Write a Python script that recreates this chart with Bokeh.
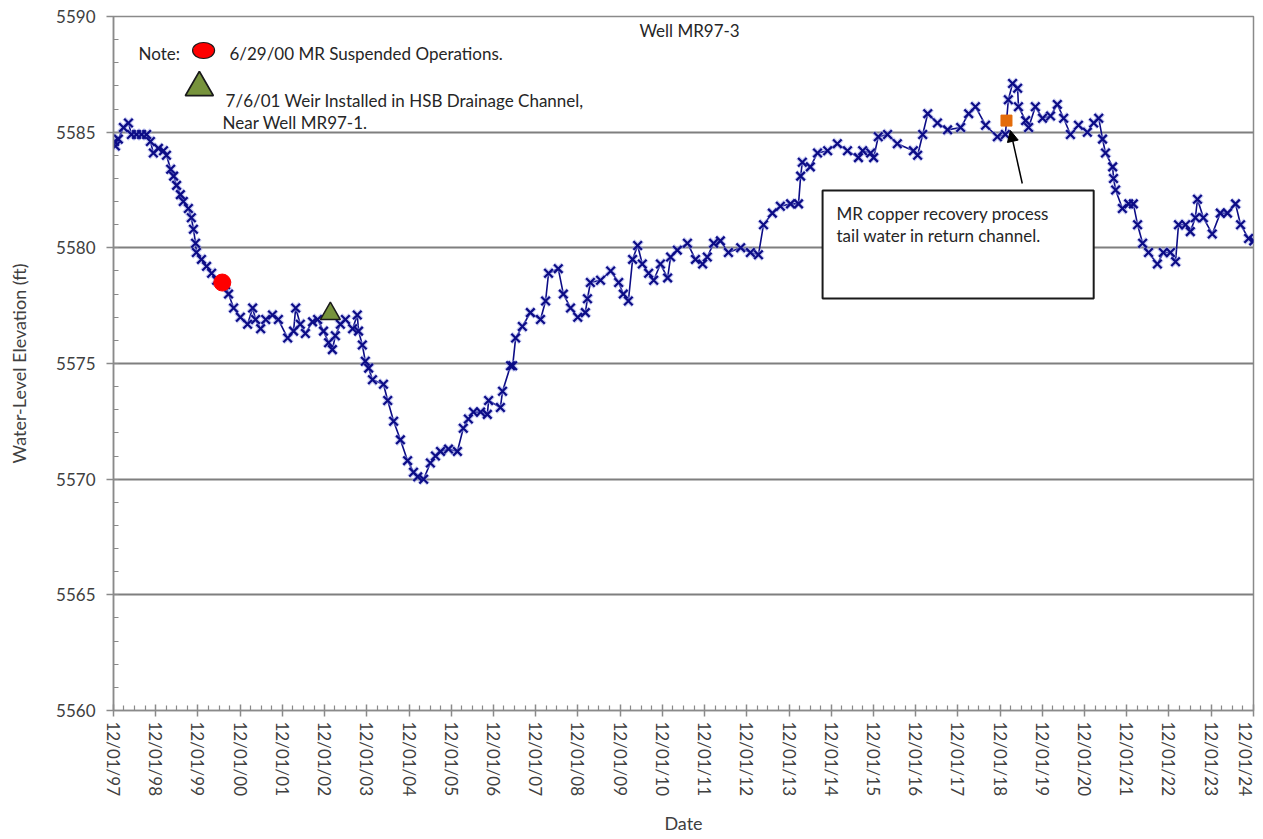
import math
from datetime import datetime, timedelta
from bokeh.plotting import figure
from bokeh.models import (FixedTicker, SingleIntervalTicker, DatetimeTickFormatter,
                          Range1d, Label, Arrow, NormalHead, ColumnDataSource, BoxAnnotation)
from bokeh.embed import file_html
from bokeh.resources import INLINE

# ---- data (decimal years, water-level elevation ft) ----
years = [
    1997.94, 1997.96, 1998.03, 1998.15, 1998.27, 1998.34, 1998.46, 1998.58, 1998.70, 1998.79,
    1998.86, 1998.98, 1999.10, 1999.17, 1999.27, 1999.34, 1999.41, 1999.50, 1999.57, 1999.69,
    1999.76, 1999.81, 1999.86, 1999.88, 2000.00, 2000.12, 2000.24, 2000.36, 2000.47, 2000.57,
    2000.64, 2000.76, 2000.92, 2001.09, 2001.21, 2001.28, 2001.40, 2001.52, 2001.68, 2001.82,
    2002.04, 2002.18, 2002.23, 2002.34, 2002.46, 2002.63, 2002.75, 2002.89, 2003.01, 2003.10,
    2003.17, 2003.29, 2003.41, 2003.58, 2003.69, 2003.72, 2003.81, 2003.88, 2003.96, 2004.05,
    2004.31, 2004.41, 2004.55, 2004.71, 2004.88, 2005.02, 2005.12, 2005.26, 2005.42, 2005.54,
    2005.66, 2005.85, 2006.06, 2006.20, 2006.32, 2006.44, 2006.61, 2006.77, 2006.80, 2007.08,
    2007.13, 2007.32, 2007.37, 2007.44, 2007.60, 2007.79, 2008.03, 2008.15, 2008.22, 2008.45,
    2008.57, 2008.74, 2008.91, 2009.09, 2009.14, 2009.21, 2009.45, 2009.69, 2009.88, 2009.99,
    2010.11, 2010.21, 2010.33, 2010.44, 2010.59, 2010.71, 2010.87, 2011.04, 2011.11, 2011.27,
    2011.51, 2011.70, 2011.87, 2011.98, 2012.13, 2012.29, 2012.48, 2012.77, 2013.00, 2013.19,
    2013.31, 2013.52, 2013.71, 2013.95, 2014.14, 2014.19, 2014.23, 2014.42, 2014.59, 2014.83,
    2015.06, 2015.30, 2015.56, 2015.66, 2015.85, 2015.92, 2016.03, 2016.25, 2016.48, 2016.86,
    2016.96, 2017.08, 2017.20, 2017.43, 2017.67, 2017.98, 2018.17, 2018.33, 2018.57, 2018.85,
    2019.04, 2019.11, 2019.21, 2019.33, 2019.35, 2019.52, 2019.59, 2019.75, 2019.92, 2020.11,
    2020.27, 2020.42, 2020.58, 2020.77, 2020.98, 2021.13, 2021.25, 2021.34, 2021.41, 2021.58,
    2021.60, 2021.65, 2021.81, 2021.96, 2022.07, 2022.17, 2022.29, 2022.43, 2022.64, 2022.78,
    2022.95, 2023.07, 2023.14, 2023.31, 2023.42, 2023.54, 2023.59, 2023.73, 2023.94, 2024.13,
    2024.30, 2024.49, 2024.61, 2024.80, 2024.92,
]
levels = [
    5584.6, 5584.4, 5584.7, 5585.2, 5585.4, 5584.9, 5584.9, 5584.9, 5584.9, 5584.6,
    5584.1, 5584.3, 5584.2, 5584.0, 5583.4, 5583.1, 5582.7, 5582.3, 5582.0, 5581.7,
    5581.3, 5580.8, 5580.2, 5579.8, 5579.5, 5579.2, 5578.9, 5578.6, 5578.5, 5578.4,
    5578.0, 5577.4, 5577.0, 5576.7, 5577.4, 5576.9, 5576.5, 5576.9, 5577.1, 5576.9,
    5576.1, 5576.4, 5577.4, 5576.7, 5576.3, 5576.8, 5576.9, 5576.4, 5575.9, 5575.6,
    5576.2, 5576.7, 5576.9, 5576.5, 5577.1, 5576.4, 5575.8, 5575.1, 5574.8, 5574.3,
    5574.1, 5573.4, 5572.5, 5571.7, 5570.8, 5570.3, 5570.1, 5570.0, 5570.7, 5571.0,
    5571.2, 5571.3, 5571.2, 5572.2, 5572.6, 5572.9, 5572.9, 5572.8, 5573.4, 5573.1,
    5573.8, 5574.9, 5574.9, 5576.1, 5576.6, 5577.2, 5576.9, 5577.7, 5578.9, 5579.1,
    5578.0, 5577.4, 5577.0, 5577.2, 5577.8, 5578.5, 5578.6, 5579.0, 5578.5, 5578.0,
    5577.7, 5579.5, 5580.1, 5579.3, 5578.9, 5578.6, 5579.3, 5578.7, 5579.6, 5579.9,
    5580.2, 5579.5, 5579.3, 5579.6, 5580.2, 5580.3, 5579.8, 5580.0, 5579.8, 5579.7,
    5581.0, 5581.5, 5581.8, 5581.9, 5581.9, 5583.1, 5583.7, 5583.5, 5584.1, 5584.2,
    5584.5, 5584.2, 5583.9, 5584.2, 5584.1, 5583.9, 5584.8, 5584.9, 5584.5, 5584.2,
    5584.0, 5584.9, 5585.8, 5585.4, 5585.1, 5585.2, 5585.8, 5586.1, 5585.3, 5584.8,
    5584.9, 5586.4, 5587.1, 5586.9, 5586.1, 5585.5, 5585.2, 5586.1, 5585.6, 5585.7,
    5586.2, 5585.6, 5584.9, 5585.3, 5585.0, 5585.4, 5585.6, 5584.7, 5584.1, 5583.5,
    5583.0, 5582.5, 5581.7, 5581.9, 5581.9, 5581.0, 5580.2, 5579.8, 5579.3, 5579.8,
    5579.8, 5579.4, 5581.0, 5581.0, 5580.7, 5581.3, 5582.1, 5581.3, 5580.6, 5581.5,
    5581.5, 5581.9, 5581.0, 5580.4, 5580.3,
]

# event markers
suspend_date, suspend_level = "2000-06-29", 5578.5
weir_date, weir_level = "2003-01-20", 5577.15
copper_date, copper_level = "2019-01-25", 5585.5

tick_years = list(range(1997, 2025))  # 12/01 of each year
y_min, y_max = 5560, 5590


def dec_to_dt(y):
    yi = int(y)
    start = datetime(yi, 1, 1)
    days = (datetime(yi + 1, 1, 1) - start).days
    return start + timedelta(days=(y - yi) * days)


def ms(dt):
    return (dt - datetime(1970, 1, 1)).total_seconds() * 1000.0


def ms_dec(y):
    return ms(dec_to_dt(y))


def ms_str(s):
    return ms(datetime.strptime(s, "%Y-%m-%d"))


FONT = "Lato"
TXT = "#262626"
NAVY = "#0c0c86"
GRAY = "#8a8a8a"

src = ColumnDataSource(dict(x=[dec_to_dt(v) for v in years], y=levels))

x_start = ms(datetime(tick_years[0], 12, 1))
x_end = ms(datetime(tick_years[-1], 12, 1))

p = figure(width=1255, height=838, x_axis_type="datetime",
           output_backend="svg", toolbar_location=None,
           x_range=Range1d(x_start, x_end), y_range=Range1d(y_min, y_max),
           min_border_left=113, min_border_right=2, min_border_top=16,
           min_border_bottom=128, background_fill_color="white",
           border_fill_color="white")

p.outline_line_color = GRAY
p.outline_line_width = 1.5

# ticks
major = [ms(datetime(yr, 12, 1)) for yr in tick_years]
minor = []
for yr in tick_years[1:]:
    for m in (3, 6, 9):
        minor.append(ms(datetime(yr, m, 1)))
p.xaxis.ticker = FixedTicker(ticks=major, minor_ticks=minor)
p.xaxis.formatter = DatetimeTickFormatter(
    years="%m/%d/%y", months="%m/%d/%y", days="%m/%d/%y",
    hours="%m/%d/%y", minutes="%m/%d/%y", seconds="%m/%d/%y",
    milliseconds="%m/%d/%y", microseconds="%m/%d/%y", hourmin="%m/%d/%y",
    minsec="%m/%d/%y")
p.xaxis.major_label_orientation = -math.pi / 2
p.yaxis.ticker = SingleIntervalTicker(interval=5, num_minor_ticks=5)

for ax in (p.xaxis[0], p.yaxis[0]):
    ax.axis_line_color = GRAY
    ax.axis_line_width = 1.5
    ax.major_tick_line_color = GRAY
    ax.minor_tick_line_color = GRAY
    ax.major_tick_line_width = 1.5
    ax.minor_tick_line_width = 1.2
    ax.major_label_text_font = FONT
    ax.major_label_text_font_size = "17px"
    ax.major_label_text_color = "#404040"
    ax.axis_label_text_font = FONT
    ax.axis_label_text_font_size = "18px"
    ax.axis_label_text_font_style = "normal"
    ax.axis_label_text_color = "#404040"

p.xaxis.major_tick_in = 6
p.xaxis.major_tick_out = 6
p.xaxis.minor_tick_in = 5
p.xaxis.minor_tick_out = 0
p.xaxis.major_label_standoff = 5
p.xaxis.axis_label = "Date"
p.xaxis.axis_label_standoff = 13

p.yaxis.major_tick_in = 0
p.yaxis.major_tick_out = 7
p.yaxis.minor_tick_in = 5
p.yaxis.minor_tick_out = 0
p.yaxis.major_label_standoff = 11
p.yaxis.axis_label = "Water-Level Elevation (ft)"
p.yaxis.axis_label_standoff = 23

p.xgrid.grid_line_color = None
p.ygrid.grid_line_color = "#7f7f7f"
p.ygrid.grid_line_width = 2

# series
p.line("x", "y", source=src, line_color=NAVY, line_width=1.6)
p.scatter("x", "y", source=src, marker="x", size=13, line_color="#9aa0ea",
          line_width=4.5, line_alpha=0.5)
p.scatter("x", "y", source=src, marker="x", size=12, line_color=NAVY, line_width=2.2)

# event markers
p.scatter([ms_str(suspend_date)], [suspend_level], marker="circle", size=17,
          fill_color="#ff0000", line_color="#ff0000")
p.scatter([ms_str(weir_date)], [weir_level], marker="triangle", size=20,
          fill_color="#77933c", line_color="#1a1a1a", line_width=1.5)
p.scatter([ms_str(copper_date)], [copper_level], marker="square", size=11,
          fill_color="#e46c0a", line_color="#e46c0a")

# arrow to the copper-recovery point
p.add_layout(Arrow(end=NormalHead(size=11, fill_color="black", line_color="black"),
                   x_start=ms_dec(2019.44), y_start=5582.78,
                   x_end=ms_dec(2019.16), y_end=5585.07,
                   line_color="black", line_width=1.5))

# annotation box
p.add_layout(BoxAnnotation(left=ms_dec(2014.71), right=ms_dec(2021.13),
                           bottom=5577.81, top=5582.48,
                           fill_color="white", fill_alpha=1.0,
                           line_color="#1a1a1a", line_alpha=1.0, line_width=2,
                           level="overlay"))


def lab(x, y, text, size="17px", align="left"):
    p.add_layout(Label(x=x, y=y, text=text, text_font=FONT, text_font_size=size,
                       text_color=TXT, text_align=align, text_baseline="middle",
                       level="overlay"))


lab(ms_dec(2015.04), 5581.48, "MR copper recovery process")
lab(ms_dec(2015.04), 5580.53, "tail water in return channel.")

# title
lab(ms_dec(2011.56), 5589.39, "Well MR97-3", size="17px", align="center")

# note legend
lab(ms_dec(1998.51), 5588.40, "Note:")
p.ellipse([ms_dec(2000.05)], [5588.53], width=22, height=16,
          width_units="screen", height_units="screen",
          fill_color="#ff0000", line_color="#1a1a1a", line_width=1.2)
lab(ms_dec(2000.66), 5588.40, "6/29/00 MR Suspended Operations.")
p.scatter([ms_dec(1999.95)], [5586.93], marker="triangle", size=28,
          fill_color="#77933c", line_color="#1a1a1a", line_width=1.8)
lab(ms_dec(2000.57), 5586.37, "7/6/01  Weir Installed in HSB Drainage Channel,")
lab(ms_dec(2000.50), 5585.42, "Near Well MR97-1.")

open("out.html", "w").write(file_html(p, INLINE))
